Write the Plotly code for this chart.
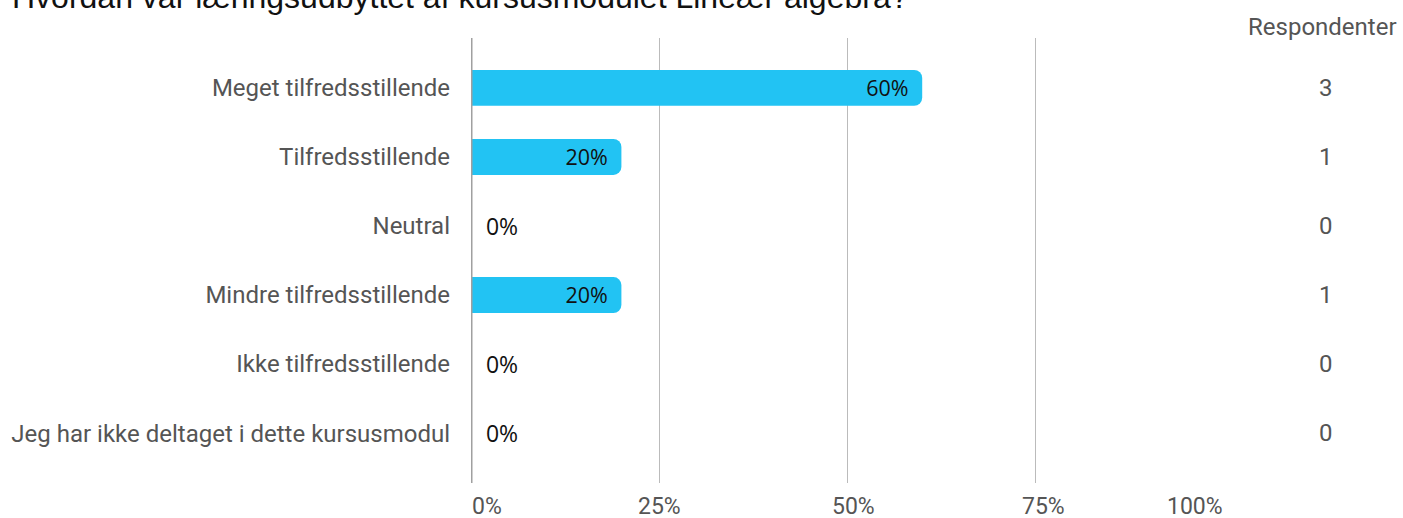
import plotly.graph_objects as go

categories = ["Meget tilfredsstillende", "Tilfredsstillende", "Neutral",
              "Mindre tilfredsstillende", "Ikke tilfredsstillende",
              "Jeg har ikke deltaget i dette kursusmodul"]
percents = [60, 20, 0, 20, 0, 0]
counts = [3, 1, 0, 1, 0, 0]
tick_vals = [0, 25, 50, 75, 100]
tick_labels = ["0%", "25%", "50%", "75%", "100%"]
title_text = "Hvordan var læringsudbyttet af kursusmodulet Lineær algebra?"
count_header = "Respondenter"

W, H = 1403, 518
ml, mr, mt, mb = 471, 180, 38, 35
pw, ph = W - ml - mr, H - mt - mb
NB = "\u00a0"

bar_text = [f"{p}%{NB}" if p > 5 else f"{NB*2}{p}%" for p in percents]
bar_font = dict(color="#111111", size=23, family="Open Sans")

fig = go.Figure()
fig.add_trace(go.Bar(
    x=percents, y=categories, orientation="h",
    marker=dict(color="#22C3F3", line=dict(width=0), cornerradius=8),
    width=0.52,
    text=bar_text,
    textposition=["inside" if p > 5 else "outside" for p in percents],
    insidetextanchor="end",
    constraintext="none",
    textfont=bar_font, insidetextfont=bar_font, outsidetextfont=bar_font,
    cliponaxis=False,
    hoverinfo="skip",
))

annotations = []
annotations.append(dict(text=title_text, xref="paper", yref="paper",
                        x=(10 - ml) / pw, y=1 + (mt + 3) / ph,
                        xanchor="left", yanchor="middle", showarrow=False,
                        font=dict(size=32, color="#111111", family="Liberation Sans")))
annotations.append(dict(text=count_header, xref="paper", yref="paper",
                        x=(1399 - ml) / pw, y=1 + (mt - 27) / ph,
                        xanchor="right", yanchor="middle", showarrow=False,
                        font=dict(size=24, color="#555555", family="Roboto")))
for c, n in zip(categories, counts):
    annotations.append(dict(text=str(n), xref="paper", yref="y",
                            x=(1326 - ml) / pw, y=c, xanchor="center", yanchor="middle",
                            showarrow=False,
                            font=dict(size=24, color="#555555", family="Roboto")))
anchors = ["left", "center", "center", "center", "right"]
shifts = [-1, 0, 6, 8, 2]
for v, t, a, s in zip(tick_vals, tick_labels, anchors, shifts):
    annotations.append(dict(text=t, xref="x", yref="paper", x=v, y=-23 / ph,
                            xanchor=a, yanchor="middle", xshift=s, showarrow=False,
                            font=dict(size=23, color="#555555", family="Roboto")))

fig.update_layout(
    width=W, height=H,
    margin=dict(l=ml, r=mr, t=mt, b=mb),
    paper_bgcolor="white", plot_bgcolor="white",
    showlegend=False,
    bargap=0.48,
    annotations=annotations,
    xaxis=dict(range=[0, 100], tickvals=tick_vals[1:], showticklabels=False,
               showgrid=True, gridcolor="#BBBBBB", gridwidth=1,
               zeroline=False, showline=False, fixedrange=True),
    yaxis=dict(categoryorder="array", categoryarray=categories,
               range=[5.7225, -0.7225], showgrid=False, zeroline=False,
               ticks="", ticklabelstandoff=20,
               tickfont=dict(size=24, color="#555555", family="Roboto")),
    shapes=[dict(type="line", xref="x", yref="paper", x0=0, x1=0, y0=0, y1=1,
                 line=dict(color="#A0A0A0", width=3), layer="above")],
)

fig.write_html("out.html", config={"displayModeBar": False},
               post_script="document.body.style.margin='0';document.body.style.overflow='hidden';")
